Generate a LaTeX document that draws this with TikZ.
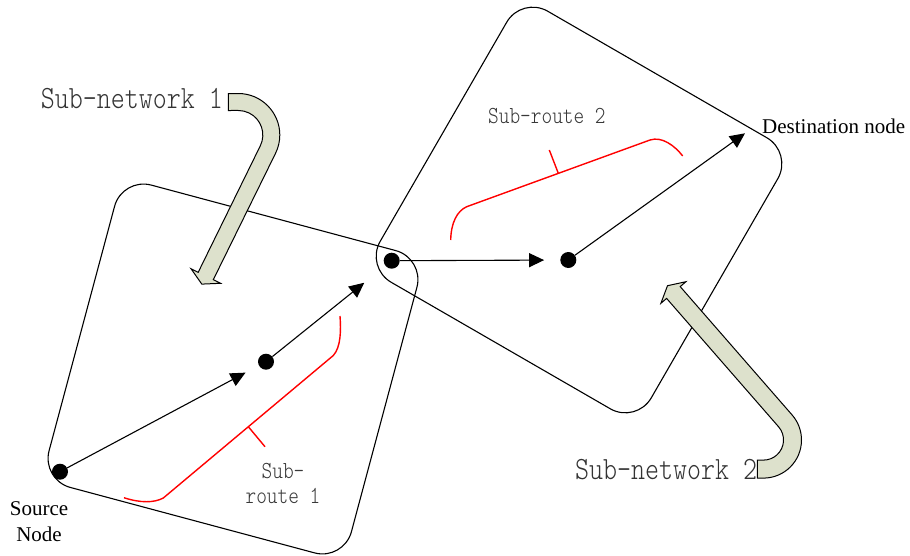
\documentclass[tikz,border=0pt]{standalone}
\usepackage{fontspec}
\setmainfont{Liberation Serif}
\usetikzlibrary{arrows.meta}
\definecolor{hookgreen}{RGB}{221,225,204}

\begin{document}
\begin{tikzpicture}[
    x=1pt, y=-1pt,
    subnet/.style={rectangle, draw, rounded corners=30pt, minimum size=313pt, line width=1.1pt},
    dot/.style={circle, fill, inner sep=0pt, minimum size=16pt},
    hop/.style={-{Triangle[length=15pt, width=14pt]}, line width=1.1pt},
    subroute/.style={draw=red, line width=1.4pt},
    hook/.style={draw, fill=hookgreen, line width=1pt},
    netlabel/.style={inner sep=0pt, text=black!80, font=\ttfamily\fontseries{l}\fontsize{32.5}{36}\selectfont},
    routelabel/.style={inner sep=0pt, text=black!78, align=center, font=\ttfamily\fontseries{l}\fontsize{24.5}{25}\selectfont},
    plainlabel/.style={inner sep=0pt, align=center, font=\fontsize{21}{26.7}\selectfont}
]
    \useasboundingbox (0,0) rectangle (910,555);

    % Sub-networks
    \node[subnet, rotate=-15] (net1) at (233,369) {};
    \node[subnet, rotate=-30] (net2) at (579,210) {};

    % Route nodes
    \node[dot] (src) at (60,471.7) {};
    \node[dot] (hop1) at (266,361.7) {};
    \node[dot] (gate) at (391.7,260.7) {};
    \node[dot] (hop2) at (568.3,260) {};
    \coordinate (dst) at (745,133.3);

    % Hops along the route
    \draw[hop, shorten >=15pt] (src) -- (hop1);
    \draw[hop, shorten >=27pt] (hop1) -- (gate);
    \draw[hop, shorten >=16pt] (gate) -- (hop2);
    \draw[hop] (hop2) -- (dst);

    % Sub-route brackets
    \draw[subroute] (124,497.7) .. controls (140,503) and (154,503) .. (163.3,498)
        -- (333.3,355.5) .. controls (341,347) and (341,330) .. (340,316);
    \draw[subroute] (248.3,426.7) -- (265,446.7);
    \draw[subroute] (450.7,240) .. controls (451,223) and (457,211) .. (466.7,206.7)
        -- (650,140) .. controls (662,136) and (675,146) .. (682.7,156);
    \draw[subroute] (558.3,173.3) -- (549.3,150);

    % Bent pointers into the sub-networks
    \filldraw[hook] (228.3,93.5) -- (238.3,93.5) arc[start angle=-90, end angle=26.2, radius=41.5]
        -- (213.3,279.7) -- (220.6,283.3) -- (201.8,284.1) -- (191,268.7) -- (198.2,272.3)
        -- (260.3,145.8) arc[start angle=26.2, end angle=-90, radius=24.5] -- (228.3,110.5) -- cycle;
    \filldraw[hook] (757.3,478.1) -- (763.4,478.1) arc[start angle=90, end angle=-41, radius=38.1]
        -- (680.2,286.6) -- (685.9,281.7) -- (667.5,285.7) -- (660.9,303.3) -- (666.6,298.4)
        -- (778.6,426.8) arc[start angle=-41, end angle=90, radius=20.1] -- (757.3,460.1) -- cycle;

    % Labels
    \node[netlabel, anchor=base east] (net1label) at (223,108.3) {\scalebox{0.82}[1]{Sub-network 1}};
    \node[netlabel, anchor=base west] (net2label) at (575,479.3) {\scalebox{0.82}[1]{Sub-network 2}};
    \node[routelabel, anchor=base west] (route2label) at (488,123.3) {\scalebox{0.83}[1]{Sub-route 2}};
    \node[routelabel, anchor=north] (route1label) at (283,463.5) {\scalebox{0.83}[1]{Sub-}\\\scalebox{0.83}[1]{route 1}};
    \node[plainlabel, anchor=north] (srclabel) at (39,501) {Source\\Node};
    \node[plainlabel, anchor=base west] (dstlabel) at (762,133.3) {Destination node};
\end{tikzpicture}
\end{document}
